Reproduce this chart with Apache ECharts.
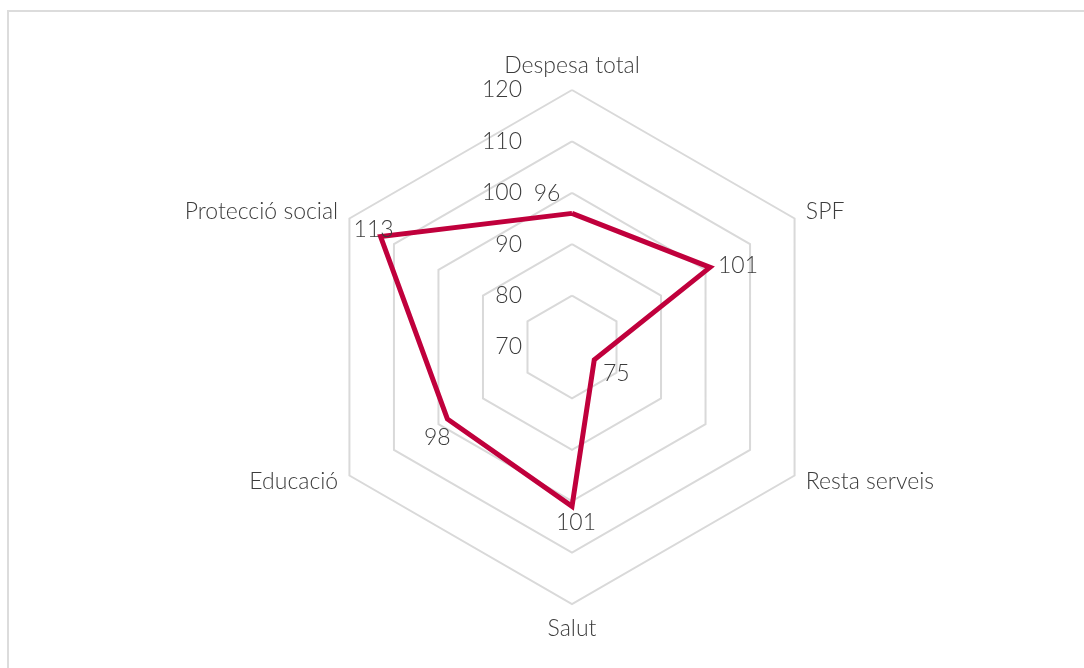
<!DOCTYPE html>
<html lang="ca">
<head>
<meta charset="utf-8">
<title>Radar</title>
<script src="https://cdn.jsdelivr.net/npm/echarts@6/dist/echarts.min.js"></script>
<style>
  html, body { margin: 0; padding: 0; background: #fff; }
  #frame { position: absolute; left: 7px; top: 10px; width: 1100px; height: 700px;
           border-left: 2px solid #dcdcdc; border-top: 2px solid #dcdcdc; }
  #chart { position: absolute; left: 0; top: 0; width: 1084px; height: 668px; }
</style>
</head>
<body>
<div id="frame"></div>
<div id="chart"></div>
<script>
  // indicadors (ordre de dibuix: comença a dalt i gira en sentit antihorari)
  var indicators = ['Despesa total', 'Protecció social', 'Educació', 'Salut', 'Resta serveis', 'SPF'];
  var values = [96, 113, 98, 101, 75, 101];
  var axisMin = 70;
  var axisMax = 120;

  // posició de cada etiqueta de valor respecte al punt
  var labelOffsets = [[-25, -20], [-7, -7], [-10, 19], [4, 16], [22, 14], [28, -2]];

  var font = 'Lato';
  var fontSize = 23;
  var textColor = '#3c3c3c';

  var hiddenItems = labelOffsets.map(function (off, k) {
    return {
      value: values,
      lineStyle: { opacity: 0 },
      symbol: 'circle',
      symbolSize: 2,
      itemStyle: { color: 'rgba(0,0,0,0)', borderWidth: 0 },
      label: {
        show: true,
        position: 'inside',
        offset: off,
        color: textColor,
        fontFamily: font,
        fontWeight: 300,
        fontSize: fontSize,
        formatter: function (p) {
          return p.dimensionIndex === k ? String(p.value) : '';
        }
      }
    };
  });

  var myChart = echarts.init(document.getElementById('chart'));
  myChart.setOption({
    animation: false,
    radar: {
      center: [572, 347],
      radius: 257,
      startAngle: 90,
      splitNumber: 5,
      shape: 'polygon',
      indicator: indicators.map(function (name, i) {
        var ind = { name: name, min: axisMin, max: axisMax };
        if (i === 0) {
          ind.axisLabel = { show: true };
        }
        return ind;
      }),
      axisName: {
        color: textColor,
        fontFamily: font,
        fontWeight: 300,
        fontSize: fontSize
      },
      nameGap: 13,
      axisLine: { show: false },
      axisTick: { show: false },
      axisLabel: {
        show: false,
        color: textColor,
        fontFamily: font,
        fontWeight: 300,
        fontSize: fontSize,
        margin: 50,
        showMinLabel: true
      },
      splitLine: { lineStyle: { color: '#d9d9d9', width: 2 } },
      splitArea: { show: false }
    },
    series: [{
      type: 'radar',
      symbol: 'none',
      silent: true,
      data: [{
        value: values,
        lineStyle: { color: '#c0003c', width: 5, join: 'miter' }
      }].concat(hiddenItems)
    }]
  });
</script>
</body>
</html>
